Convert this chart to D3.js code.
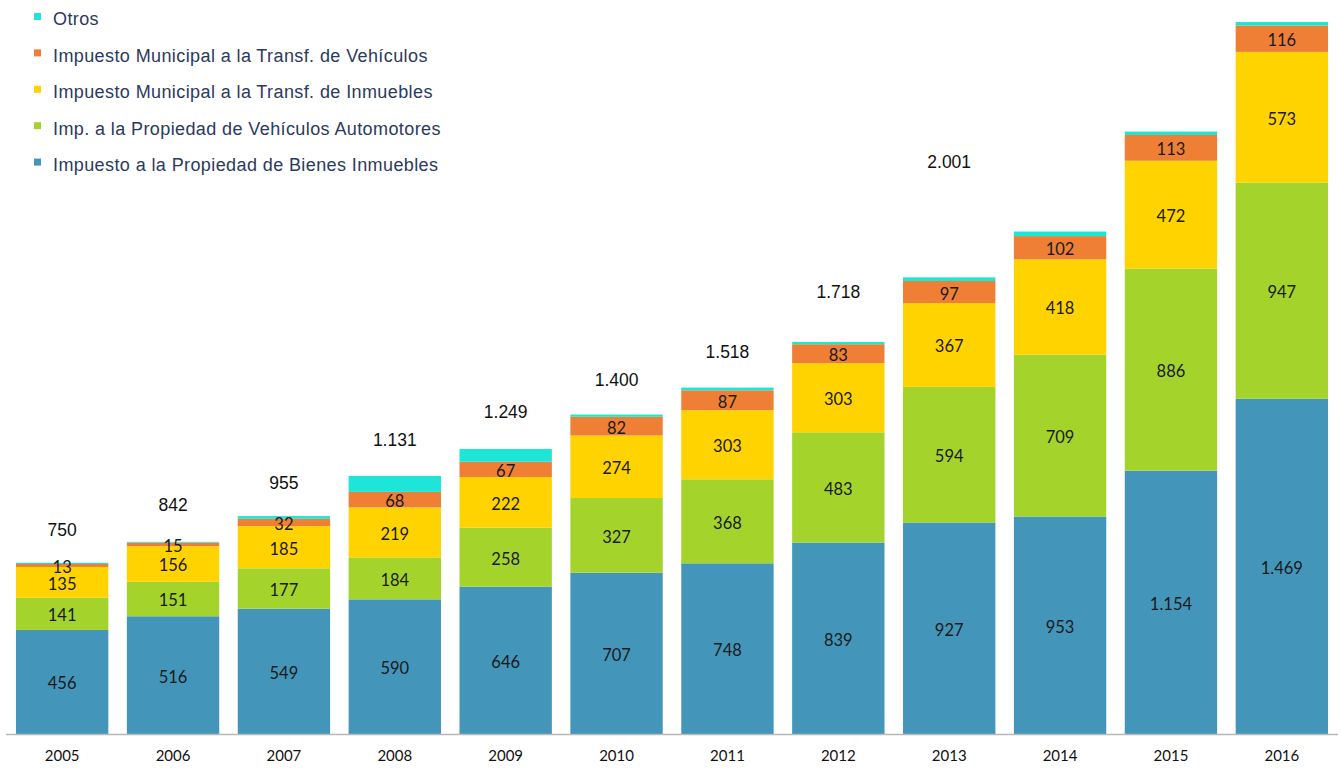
<!DOCTYPE html>
<html><head><meta charset="utf-8">
<script src="https://cdn.jsdelivr.net/npm/d3@7"></script>
<style>
html,body{margin:0;padding:0;background:#fff;}
svg{display:block;}
</style></head>
<body>
<svg id="chart" width="1341" height="768"></svg>
<script>
// ---- data ----
const years = ["2005","2006","2007","2008","2009","2010","2011","2012","2013","2014","2015","2016"];
const seriesNames = [
  "Impuesto a la Propiedad de Bienes Inmuebles",
  "Imp. a la Propiedad de Vehículos Automotores",
  "Impuesto Municipal a la Transf. de Inmuebles",
  "Impuesto Municipal a la Transf. de Vehículos",
  "Otros"
];
const bienesInmuebles   = [456, 516, 549, 590, 646, 707, 748, 839, 927, 953, 1154, 1469];
const vehiculosAuto     = [141, 151, 177, 184, 258, 327, 368, 483, 594, 709, 886, 947];
const transfInmuebles   = [135, 156, 185, 219, 222, 274, 303, 303, 367, 418, 472, 573];
const transfVehiculos   = [13, 15, 32, 68, 67, 82, 87, 83, 97, 102, 113, 116];
const otros             = [5, 4, 12, 70, 56, 10, 12, 10, 16, 20, 15, 15];
const totalLabels       = ["750","842","955","1.131","1.249","1.400","1.518","1.718","2.001",null,null,null];
const totalLabelLift    = [34, 38, 34, 37, 38, 35, 36, 51, 116, 0, 0, 0]; // px above bar top
const colors = ["#4396BA", "#A4D42B", "#FFD300", "#EE7F35", "#1DE6D9"];
const showSegLabels = [true, true, true, true, false];

// ---- layout ----
const svg = d3.select("#chart");
const baseline = 734;
const x = d3.scaleBand().domain(years).range([6, 1338]).paddingInner(0.167).paddingOuter(0.09);
const y = d3.scaleLinear().domain([0, 3200]).range([baseline, baseline - 3200 * 0.2282]);

const seriesArrays = [bienesInmuebles, vehiculosAuto, transfInmuebles, transfVehiculos, otros];
const rows = years.map((yr, i) => {
  const r = {year: yr};
  seriesNames.forEach((s, k) => r[s] = seriesArrays[k][i]);
  return r;
});
const stack = d3.stack().keys(seriesNames)(rows);

const layers = svg.append("g").selectAll("g").data(stack).join("g")
  .attr("fill", (d, k) => colors[k]);
layers.selectAll("rect").data(d => d).join("rect")
  .attr("x", d => x(d.data.year))
  .attr("width", x.bandwidth())
  .attr("y", d => y(d[1]))
  .attr("height", d => y(d[0]) - y(d[1]));

// segment labels
stack.forEach((layer, k) => {
  if (!showSegLabels[k]) return;
  svg.append("g").selectAll("text").data(layer).join("text")
    .attr("x", d => x(d.data.year) + x.bandwidth() / 2)
    .attr("y", d => (y(d[0]) + y(d[1])) / 2)
    .attr("dy", "0.45em")
    .attr("text-anchor", "middle")
    .attr("font-family", "Lato, 'Open Sans', sans-serif")
    .attr("font-size", 16.5)
    .attr("fill", "#1a1a1a")
    .text(d => (d[1] - d[0]).toLocaleString("es-AR"));
});

// totals
const totals = rows.map((r, i) => seriesArrays.reduce((a, s) => a + s[i], 0));
svg.append("g").selectAll("text").data(years.map((yr, i) => ({yr, i})).filter(d => totalLabels[d.i]))
  .join("text")
  .attr("x", d => x(d.yr) + x.bandwidth() / 2)
  .attr("y", d => y(totals[d.i]) - totalLabelLift[d.i])
  .attr("dy", "0.38em")
  .attr("text-anchor", "middle")
  .attr("font-family", "'Liberation Sans', Arial, sans-serif")
  .attr("font-size", 17.5)
  .attr("fill", "#111")
  .text(d => totalLabels[d.i]);

// x axis
const xAxis = d3.axisBottom(x).tickSize(0).tickPadding(16);
const ax = svg.append("g").attr("transform", `translate(0,${baseline})`).call(xAxis);
ax.select(".domain").attr("stroke", "#b8b8b8").attr("stroke-width", 1.5).attr("d", "M6,0.5H1338");
ax.selectAll("text").attr("font-family", "Lato, 'Open Sans', sans-serif").attr("font-size", 15).attr("fill", "#111");

// legend (top to bottom: Otros first)
const legendOrder = seriesNames.map((s, k) => ({s, k})).reverse();
const lg = svg.append("g").selectAll("g").data(legendOrder).join("g")
  .attr("transform", (d, i) => `translate(34,${19 + i * 36.4})`);
lg.append("rect").attr("x", 0).attr("y", -6).attr("width", 7).attr("height", 7).attr("fill", d => colors[d.k]);
lg.append("text").attr("x", 19).attr("y", 0).attr("dy", "0.36em")
  .attr("font-family", "'Liberation Sans', Arial, sans-serif")
  .attr("font-size", 18).attr("letter-spacing", 0.4).attr("fill", "#2b3a5e")
  .text(d => d.s);
</script>
</body></html>
